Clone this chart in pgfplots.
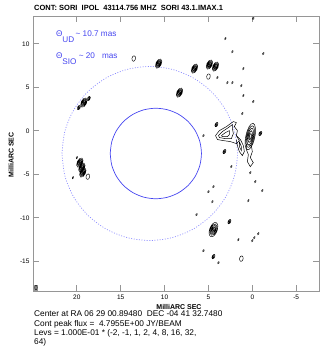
\documentclass[border=0pt]{standalone}
\usepackage{fontspec}
\setmainfont{Liberation Sans}
\usepackage{pgfplots}
\pgfplotsset{compat=1.18}
\definecolor{cblue}{RGB}{70,70,240}
\definecolor{dblue}{RGB}{140,140,255}
\definecolor{agray}{RGB}{150,150,150}
\pgfdeclareplotmark{tinyc}{\pgftransformrotate{-25}\pgfpathellipse{\pgfpointorigin}{\pgfpoint{0.7pt}{0pt}}{\pgfpoint{0pt}{1.2pt}}\pgfusepathqstroke}
\pgfdeclareplotmark{smallc}{\pgftransformrotate{-25}\pgfpathellipse{\pgfpointorigin}{\pgfpoint{1.3pt}{0pt}}{\pgfpoint{0pt}{2.4pt}}\pgfpathellipse{\pgfpointorigin}{\pgfpoint{0.6pt}{0pt}}{\pgfpoint{0pt}{1.2pt}}\pgfusepathqstroke}
\pgfdeclareplotmark{openc}{\pgftransformrotate{-10}\pgfpathellipse{\pgfpointorigin}{\pgfpoint{1.8pt}{0pt}}{\pgfpoint{0pt}{2.8pt}}\pgfusepathqstroke}
\pgfdeclareplotmark{medc}{\pgftransformrotate{-25}%
\pgfpathellipse{\pgfpointorigin}{\pgfpoint{2.7pt}{0pt}}{\pgfpoint{0pt}{5pt}}%
\pgfpathellipse{\pgfpointorigin}{\pgfpoint{2pt}{0pt}}{\pgfpoint{0pt}{3.7pt}}%
\pgfpathellipse{\pgfpointorigin}{\pgfpoint{1.3pt}{0pt}}{\pgfpoint{0pt}{2.5pt}}%
\pgfpathellipse{\pgfpointorigin}{\pgfpoint{0.6pt}{0pt}}{\pgfpoint{0pt}{1.2pt}}\pgfusepathqstroke}
\pgfdeclareplotmark{bigc}{\pgftransformrotate{-20}%
\pgfpathellipse{\pgfpointorigin}{\pgfpoint{3.8pt}{0pt}}{\pgfpoint{0pt}{7.5pt}}%
\pgfpathellipse{\pgfpointorigin}{\pgfpoint{3pt}{0pt}}{\pgfpoint{0pt}{6pt}}%
\pgfpathellipse{\pgfpointorigin}{\pgfpoint{2.2pt}{0pt}}{\pgfpoint{0pt}{4.5pt}}%
\pgfpathellipse{\pgfpointorigin}{\pgfpoint{1.4pt}{0pt}}{\pgfpoint{0pt}{3pt}}%
\pgfpathellipse{\pgfpointorigin}{\pgfpoint{0.6pt}{0pt}}{\pgfpoint{0pt}{1.5pt}}\pgfusepathqstroke}
\pgfdeclareplotmark{rblob}{\pgftransformrotate{-12}%
\pgfpathellipse{\pgfpointorigin}{\pgfpoint{4.5pt}{0pt}}{\pgfpoint{0pt}{13.5pt}}%
\pgfpathellipse{\pgfpointorigin}{\pgfpoint{3.6pt}{0pt}}{\pgfpoint{0pt}{11pt}}%
\pgfpathellipse{\pgfpointorigin}{\pgfpoint{2.7pt}{0pt}}{\pgfpoint{0pt}{8.5pt}}%
\pgfpathellipse{\pgfpointorigin}{\pgfpoint{1.8pt}{0pt}}{\pgfpoint{0pt}{6pt}}%
\pgfpathellipse{\pgfpointorigin}{\pgfpoint{0.9pt}{0pt}}{\pgfpoint{0pt}{3.2pt}}\pgfusepathqstroke}
\pgfdeclareplotmark{beam}{\pgfsetfillcolor{agray}\pgfpathrectangle{\pgfpoint{-2pt}{-3pt}}{\pgfpoint{4pt}{6pt}}\pgfusepathqfill
\pgfpathellipse{\pgfpointorigin}{\pgfpoint{1.2pt}{0pt}}{\pgfpoint{0pt}{2.2pt}}\pgfusepathqstroke}
\begin{document}
\begin{tikzpicture}
\useasboundingbox (-33pt,-62pt) rectangle (294pt,291pt);
\begin{axis}[
  scale only axis, width=286pt, height=275pt,
  at={(0pt,0pt)}, anchor=south west,
  x dir=reverse,
  xmin=-7.6, xmax=25, ymin=-18.4, ymax=13.2,
  xtick={-5,0,5,10,15,20}, ytick={-15,-10,-5,0,5,10},
  tick pos=both, tick align=inside,
  major tick length=6pt,
  axis line style={agray, line width=0.8pt},
  every tick/.style={agray, line width=0.8pt},
  tick label style={font=\fontsize{6.5}{7}\selectfont, text=black},
  /pgf/number format/assume math mode=true,
  clip=true,
]
% circles
\addplot[cblue, line width=0.7pt, smooth] coordinates {
(16.2,-2.6) (16.023,-1.254) (15.503,0.0) (14.677,1.077) (13.6,1.903) (12.346,2.423)
(11.0,2.6) (9.654,2.423) (8.4,1.903) (7.323,1.077) (6.497,0.0) (5.977,-1.254)
(5.8,-2.6) (5.977,-3.946) (6.497,-5.2) (7.323,-6.277) (8.4,-7.103) (9.654,-7.623)
(11.0,-7.8) (12.346,-7.623) (13.6,-7.103) (14.677,-6.277) (15.503,-5.2) (16.023,-3.946) (16.2,-2.6)};
\addplot[dblue, line width=0.7pt, smooth, dash pattern=on 1pt off 1.6pt] coordinates {
(21.7,-2.6) (21.359,-0.012) (20.36,2.4) (18.771,4.471) (16.7,6.06) (14.288,7.059)
(11.7,7.4) (9.112,7.059) (6.7,6.06) (4.629,4.471) (3.04,2.4) (2.041,-0.012)
(1.7,-2.6) (2.041,-5.188) (3.04,-7.6) (4.629,-9.671) (6.7,-11.26) (9.112,-12.259)
(11.7,-12.6) (14.288,-12.259) (16.7,-11.26) (18.771,-9.671) (20.36,-7.6) (21.359,-5.188) (21.7,-2.6)};
% main complex contours
\addplot[black, line width=0.5pt] coordinates {(4.20,-0.54) (3.75,0.03) (2.95,0.49) (2.16,1.07) (1.82,0.95) (2.05,0.49) (1.70,0.03) (1.82,-0.54) (1.48,-1.12) (1.82,-1.46) (2.50,-1.23) (3.30,-1.12) (3.97,-1.00) (4.20,-0.54)};
\addplot[black, line width=0.5pt] coordinates {(3.86,-0.54) (3.41,-0.08) (2.73,0.38) (2.27,0.72) (2.27,0.26) (2.16,-0.31) (2.39,-0.89) (3.07,-0.89) (3.75,-0.77) (3.86,-0.54)};
\addplot[black, line width=0.5pt] coordinates {(3.52,-0.54) (3.07,-0.20) (2.61,0.03) (2.61,-0.43) (2.84,-0.66) (3.41,-0.66) (3.52,-0.54)};
\addplot[black, line width=0.5pt] coordinates {(1.82,-0.54) (1.36,-1.00) (1.02,-1.69) (0.91,-2.38) (1.14,-2.84) (1.48,-2.38) (1.70,-1.69) (1.82,-1.00)};
\addplot[black, line width=0.5pt] coordinates {(1.48,-1.23) (1.25,-1.81) (1.25,-2.27) (1.48,-1.81) (1.48,-1.23)};
\addplot[black, line width=0.5pt] coordinates {(0.68,-1.58) (0.11,-1.69) (0.00,-2.38) (0.23,-3.07) (-0.11,-3.65) (0.23,-4.11) (0.57,-3.53) (0.45,-2.73) (0.68,-2.15) (0.68,-1.58)};
\addplot[only marks, mark=rblob, mark options={black, line width=0.5pt}] coordinates {(0.23,-0.66)};
% scattered contours
\addplot[only marks, mark=tinyc, mark options={black, line width=0.45pt}] coordinates {
(-0.11,12.91) (3.07,10.61) (2.27,9.11) (-1.25,8.88) (1.02,7.16) (3.98,6.13) (2.84,5.55) (2.27,5.55)
(1.25,5.20) (1.02,4.06) (-0.11,3.37) (1.14,1.99) (5.57,-0.54) (0.23,-4.80) (-0.34,-5.83) (4.43,-6.40)
(-1.14,-6.86) (4.55,-8.13) (-0.68,-11.81) (-0.23,-12.27) (0.00,-12.61) (1.59,-12.50) (5.57,-13.76)
(3.86,-15.14) (6.36,-9.62) (0.45,-8.01) (5.00,-6.98) (2.39,-4.10) (20.45,-5.37) (20.0,-3.07)};
\addplot[only marks, mark=smallc, mark options={black, line width=0.45pt}] coordinates {
(4.09,0.72) (-0.91,-0.31) (3.18,-2.38) (2.61,-10.43) (4.43,-14.45) (18.64,3.71) (19.77,2.68)};
\addplot[only marks, mark=openc, mark options={black, line width=0.45pt}] coordinates {
(13.52,8.31) (5.00,6.24) (1.25,-14.68) (18.75,-5.26)};
\addplot[only marks, mark=medc, mark options={black, line width=0.45pt}] coordinates {
(10.68,7.73) (6.59,7.16) (8.30,4.40) (4.89,7.62) (4.20,7.39) (19.20,3.25) (19.66,-3.65) (19.43,-4.22) (19.32,-4.79)};
\addplot[only marks, mark=bigc, mark options={black, line width=0.45pt}] coordinates {(4.43,-11.35)};
\addplot[only marks, mark=beam, mark options={black, line width=0.4pt}] coordinates {(24.66,-18.0)};
% labels
\node[anchor=base west, text=cblue, font=\fontsize{8.2}{9}\selectfont, inner sep=0pt] at (axis cs:22.39,10.84) {Θ\raisebox{-5.5pt}{UD}\,\textasciitilde\ 10.7 mas};
\node[anchor=base west, text=cblue, font=\fontsize{8.2}{9}\selectfont, inner sep=0pt] at (axis cs:22.39,8.31) {Θ\raisebox{-5.5pt}{SIO}\ \textasciitilde\ 20\hspace{7pt}mas};
\end{axis}
\node[anchor=base west, inner sep=0pt, font=\bfseries\fontsize{7.5}{8}\selectfont] at (1pt,280pt) {CONT: SORI\ \ IPOL\ \ 43114.756 MHZ\ \ SORI 43.1.IMAX.1};
\node[rotate=90, inner sep=0pt, font=\bfseries\fontsize{7}{8}\selectfont] at (-22pt,136pt) {MilliARC SEC};
\node[inner sep=0pt, font=\bfseries\fontsize{7}{8}\selectfont] at (146pt,-16pt) {MilliARC SEC};
\node[anchor=north west, inner sep=0pt, align=left, font=\fontsize{8.3}{9.3}\selectfont] at (1pt,-20pt) {Center at RA 06 29 00.89480\ \ DEC -04 41 32.7480\\Cont peak flux =\ \ 4.7955E+00 JY/BEAM\\Levs = 1.000E-01 * (-2, -1, 1, 2, 4, 8, 16, 32,\\64)};
\end{tikzpicture}
\end{document}
